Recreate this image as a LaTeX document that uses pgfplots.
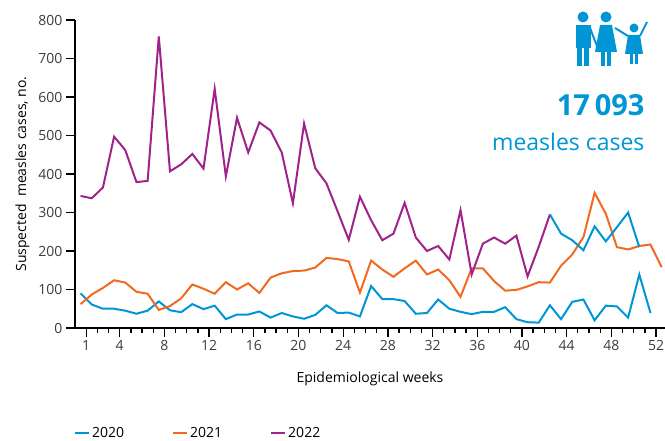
\documentclass[border=0pt]{standalone}
\usepackage{pgfplots}
\pgfplotsset{compat=1.18}
\usepackage{fontspec}
\setmainfont{Open Sans}
\definecolor{cb}{RGB}{0,150,214}
\definecolor{co}{RGB}{242,106,33}
\definecolor{cp}{RGB}{160,34,138}
\definecolor{tg}{RGB}{60,60,60}
\begin{document}
\begin{tikzpicture}[x=1pt,y=1pt]
\useasboundingbox (-75,-113) rectangle (590,328);
\begin{axis}[at={(0,0)},anchor=origin,scale only axis,width=590pt,height=308pt,
 xmin=0,xmax=52.8,ymin=0,ymax=800,
 axis x line*=bottom, axis y line*=left,
 axis line style={line width=1.6pt,-},
 xtick={1,4,8,12,16,20,24,28,32,36,40,44,48,52},
 minor xtick={1,...,52},
 ytick={0,100,...,800},
 tick align=outside,
 major tick length=9pt, minor tick length=5pt,
 tick style={black,line width=1.3pt},
 ticklabel style={font=\fontsize{14}{14}\selectfont,text=tg},
 /pgf/number format/assume math mode=true,
 xlabel={Epidemiological weeks},
 ylabel={Suspected\ \ measles cases, no.},
 label style={font=\fontsize{14}{14}\selectfont,text=black},
 xlabel style={yshift=-14pt},
 ylabel style={yshift=2pt},
 legend style={at={(axis description cs:0,0)},anchor=west,yshift=-105pt,xshift=-4pt,draw=none,
   legend columns=3,font=\fontsize{14}{14}\selectfont,
   /tikz/every even column/.append style={column sep=46pt}},
 legend image code/.code={\draw[#1,line width=2pt] (0pt,0pt) -- (14pt,0pt);},
 clip=false]
\addplot[cb,line width=2pt] coordinates {
(0.5,90)(1.5,61)(2.5,50)(3.5,50)(4.5,45)(5.5,37)(6.5,45)(7.5,69)(8.5,46)(9.5,41)
(10.5,62)(11.5,49)(12.5,58)(13.5,23)(14.5,35)(15.5,35)(16.5,43)(17.5,27)(18.5,39)(19.5,30)
(20.5,24)(21.5,34)(22.5,59)(23.5,39)(24.5,40)(25.5,30)(26.5,109)(27.5,75)(28.5,75)(29.5,70)
(30.5,37)(31.5,39)(32.5,74)(33.5,50)(34.5,42)(35.5,36)(36.5,42)(37.5,42)(38.5,54)(39.5,23)
(40.5,15)(41.5,14)(42.5,59)(43.5,23)(44.5,68)(45.5,74)(46.5,20)(47.5,58)(48.5,56)(49.5,27)
(50.5,139)(51.5,39)};
\addlegendentry{2020}
\addplot[co,line width=2pt] coordinates {
(0.5,62)(1.5,87)(2.5,104)(3.5,124)(4.5,118)(5.5,94)(6.5,89)(7.5,47)(8.5,57)(9.5,77)
(10.5,113)(11.5,102)(12.5,89)(13.5,119)(14.5,100)(15.5,116)(16.5,91)(17.5,131)(18.5,142)(19.5,148)
(20.5,149)(21.5,157)(22.5,182)(23.5,179)(24.5,173)(25.5,92)(26.5,175)(27.5,152)(28.5,133)(29.5,155)
(30.5,175)(31.5,139)(32.5,152)(33.5,124)(34.5,81)(35.5,155)(36.5,155)(37.5,122)(38.5,97)(39.5,99)
(40.5,108)(41.5,119)(42.5,118)(43.5,162)(44.5,191)(45.5,236)(46.5,351)(47.5,297)(48.5,210)(49.5,204)
(50.5,213)(51.5,217)(52.5,158)};
\addlegendentry{2021}
\addplot[cp,line width=2pt] coordinates {
(0.5,343)(1.5,337)(2.5,365)(3.5,497)(4.5,462)(5.5,379)(6.5,382)(7.5,757)(8.5,407)(9.5,425)
(10.5,452)(11.5,414)(12.5,621)(13.5,394)(14.5,546)(15.5,456)(16.5,534)(17.5,513)(18.5,456)(19.5,324)
(20.5,531)(21.5,415)(22.5,376)(23.5,303)(24.5,229)(25.5,341)(26.5,280)(27.5,228)(28.5,245)(29.5,325)
(30.5,235)(31.5,200)(32.5,213)(33.5,178)(34.5,306)(35.5,139)(36.5,219)(37.5,235)(38.5,219)(39.5,240)
(40.5,134)(41.5,211)(42.5,295)};
\addlegendentry{2022}
\addplot[cb,line width=2pt,forget plot] coordinates {
(42.5,295)(43.5,245)(44.5,228)(45.5,202)(46.5,264)(47.5,225)(48.5,262)(49.5,300)(50.5,210)};
\end{axis}
% icon
\begin{scope}[fill=cb,draw=cb]
\fill (508,311) circle (5.5);
\fill (500.5,303) rectangle (515.5,280); \fill (502,281) rectangle (507,262); \fill (509,281) rectangle (514,262);
\fill (531,311) circle (5.5);
\fill (525,303) -- (537,303) -- (542,276) -- (520,276) -- cycle; \fill (526,277) rectangle (530,262); \fill (532,277) rectangle (536,262);
\fill (559,300) circle (4.5);
\fill (553,293) -- (565,293) -- (568,274) -- (550,274) -- cycle; \fill (555,275) rectangle (558,264); \fill (560,275) rectangle (563,264);
\draw[line width=2pt] (515,300) -- (522,282); \draw[line width=2pt] (540,300) -- (553,292); \draw[line width=2pt] (565,292) -- (572,306);
\end{scope}
\node[anchor=base east,text=cb,font=\fontsize{29}{29}\selectfont\bfseries] at (573,212) {17\,093};
\node[anchor=base east,text=cb,font=\fontsize{23}{23}\selectfont] at (573,177) {measles cases};
\end{tikzpicture}
\end{document}
